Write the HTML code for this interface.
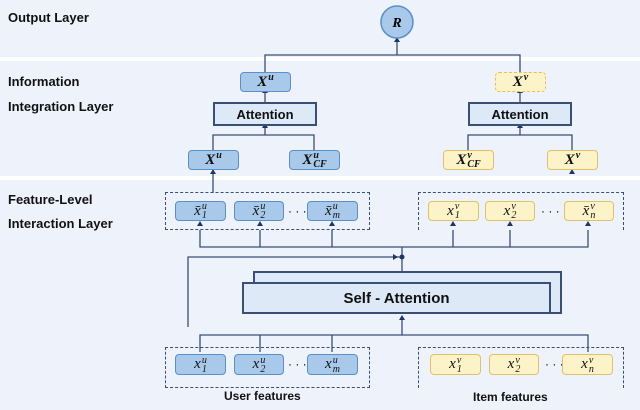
<!DOCTYPE html>
<html><head><style>
body{margin:0;width:640px;height:410px;background:#eef3fb;position:relative;overflow:hidden;font-family:"Liberation Sans",sans-serif}
.a{position:absolute}
.lab{position:absolute;font-weight:bold;font-size:13px;color:#111}
.b{position:absolute;box-sizing:border-box;border-radius:4px;display:flex;align-items:center;justify-content:center;font-family:"Liberation Serif",serif;font-style:italic;font-weight:bold;font-size:15px;color:#111}
.bl{background:#a9c9ea;border:1.5px solid #5b8fc7}
.ye{background:#fdf3c8;border:1.5px solid #e0c06a}
.f{font-weight:normal;font-size:15px}
.w{display:inline-flex;align-items:center;white-space:nowrap}
.ss{display:inline-flex;flex-direction:column;font-size:10px;line-height:9px;margin-left:1px}
.ss i{font-style:italic;height:9px}
.att{position:absolute;box-sizing:border-box;background:#dde9f6;border:2px solid #3a4f75;display:flex;align-items:center;justify-content:center;font-weight:bold;font-size:13px;color:#111}
.dash{position:absolute;box-sizing:border-box;border:1.3px dashed #3a4f75}
</style></head><body>
<div class="a" style="left:0;top:57px;width:640px;height:4px;background:#fff"></div>
<div class="a" style="left:0;top:176px;width:640px;height:4px;background:#fff"></div>
<div class="lab" style="left:8px;top:10px">Output Layer</div>
<div class="lab" style="left:8px;top:74px">Information</div>
<div class="lab" style="left:8px;top:99px">Integration Layer</div>
<div class="lab" style="left:8px;top:192px">Feature-Level</div>
<div class="lab" style="left:8px;top:216px">Interaction Layer</div>

<svg class="a" style="left:0;top:0" width="640" height="410">
<g stroke="#3a4f75" stroke-width="1.3" fill="none">
<path d="M265 72V55H520V72M397 55V40"/>
<path d="M265 102V92M520 102V92M265 135V126M520 135V126"/>
<path d="M213 150V135H314V150M468 150V135H572V150"/>
<path d="M213 193V171"/>
<path d="M200 230V247H588V230M260 247V230M332 247V230M453 247V230M510 247V230"/>
<path d="M188 327V257H400M402 247V282"/>
<path d="M402 318V335M200 352V335H588V352M260 335V352M332 335V352"/>
</g>
<g fill="#1f3566">
<path d="M397 37l-3 5h6z"/><path d="M265 88l-3 5h6z"/><path d="M520 88l-3 5h6z"/>
<path d="M265 123l-3 5h6z"/><path d="M520 123l-3 5h6z"/><path d="M213 169l-3 5h6z"/><path d="M572 169l-3 5h6z"/>
<path d="M200 221l-3 5h6z"/><path d="M260 221l-3 5h6z"/><path d="M332 221l-3 5h6z"/>
<path d="M453 221l-3 5h6z"/><path d="M510 221l-3 5h6z"/><path d="M588 221l-3 5h6z"/>
<path d="M402 315l-3 5h6z"/><circle cx="402" cy="257" r="2.5"/><path d="M393 254l5 3-5 3z"/>
</g>
<circle cx="397" cy="22" r="16" fill="#a9c9ea" stroke="#5b8fc7" stroke-width="1.5"/>
<text x="397" y="27" text-anchor="middle" font-family="Liberation Serif" font-style="italic" font-weight="bold" font-size="14">R</text>
</svg>

<div class="b bl" style="left:240px;top:72px;width:51px;height:20px"><span class="w">X<span class="ss"><i>u</i><i></i></span></span></div>
<div class="b ye" style="left:495px;top:72px;width:51px;height:20px;border-style:dashed"><span class="w">X<span class="ss"><i>v</i><i></i></span></span></div>
<div class="att" style="left:213px;top:102px;width:104px;height:24px">Attention</div>
<div class="att" style="left:468px;top:102px;width:104px;height:24px">Attention</div>
<div class="b bl" style="left:188px;top:150px;width:51px;height:20px"><span class="w">X<span class="ss"><i>u</i><i></i></span></span></div>
<div class="b bl" style="left:289px;top:150px;width:51px;height:20px"><span class="w">X<span class="ss"><i>u</i><i>CF</i></span></span></div>
<div class="b ye" style="left:443px;top:150px;width:51px;height:20px"><span class="w">X<span class="ss"><i>v</i><i>CF</i></span></span></div>
<div class="b ye" style="left:547px;top:150px;width:51px;height:20px"><span class="w">X<span class="ss"><i>v</i><i></i></span></span></div>

<div class="dash" style="left:165px;top:192px;width:205px;height:38px"></div>
<div class="dash" style="left:418px;top:192px;width:206px;height:38px;border-bottom:none"></div>
<div class="b bl f" style="left:175px;top:201px;width:51px;height:20px"><span class="w">x̄<span class="ss"><i>u</i><i>1</i></span></span></div>
<div class="b bl f" style="left:234px;top:201px;width:50px;height:20px"><span class="w">x̄<span class="ss"><i>u</i><i>2</i></span></span></div>
<div class="a" style="left:288px;top:204px;font-size:12px">· · ·</div>
<div class="b bl f" style="left:307px;top:201px;width:51px;height:20px"><span class="w">x̄<span class="ss"><i>u</i><i>m</i></span></span></div>
<div class="b ye f" style="left:428px;top:201px;width:51px;height:20px"><span class="w">x<span class="ss"><i>v</i><i>1</i></span></span></div>
<div class="b ye f" style="left:485px;top:201px;width:50px;height:20px"><span class="w">x<span class="ss"><i>v</i><i>2</i></span></span></div>
<div class="a" style="left:541px;top:204px;font-size:12px">· · ·</div>
<div class="b ye f" style="left:564px;top:201px;width:50px;height:20px"><span class="w">x̄<span class="ss"><i>v</i><i>n</i></span></span></div>

<div class="a" style="left:253px;top:271px;width:309px;height:43px;box-sizing:border-box;background:#dde9f6;border:2px solid #3a4f75"></div>
<div class="att" style="left:242px;top:282px;width:309px;height:32px;font-size:15px">Self - Attention</div>

<div class="dash" style="left:165px;top:347px;width:205px;height:41px"></div>
<div class="dash" style="left:418px;top:347px;width:206px;height:41px;border-bottom:none"></div>
<div class="b bl f" style="left:175px;top:354px;width:51px;height:21px"><span class="w">x<span class="ss"><i>u</i><i>1</i></span></span></div>
<div class="b bl f" style="left:234px;top:354px;width:50px;height:21px"><span class="w">x<span class="ss"><i>u</i><i>2</i></span></span></div>
<div class="a" style="left:288px;top:357px;font-size:12px">· · ·</div>
<div class="b bl f" style="left:307px;top:354px;width:51px;height:21px"><span class="w">x<span class="ss"><i>u</i><i>m</i></span></span></div>
<div class="b ye f" style="left:430px;top:354px;width:51px;height:21px"><span class="w">x<span class="ss"><i>v</i><i>1</i></span></span></div>
<div class="b ye f" style="left:489px;top:354px;width:50px;height:21px"><span class="w">x<span class="ss"><i>v</i><i>2</i></span></span></div>
<div class="a" style="left:545px;top:357px;font-size:12px">· · ·</div>
<div class="b ye f" style="left:562px;top:354px;width:51px;height:21px"><span class="w">x<span class="ss"><i>v</i><i>n</i></span></span></div>

<div class="lab" style="left:224px;top:389px;font-size:12px">User features</div>
<div class="lab" style="left:473px;top:390px;font-size:12px">Item features</div>
</body></html>
